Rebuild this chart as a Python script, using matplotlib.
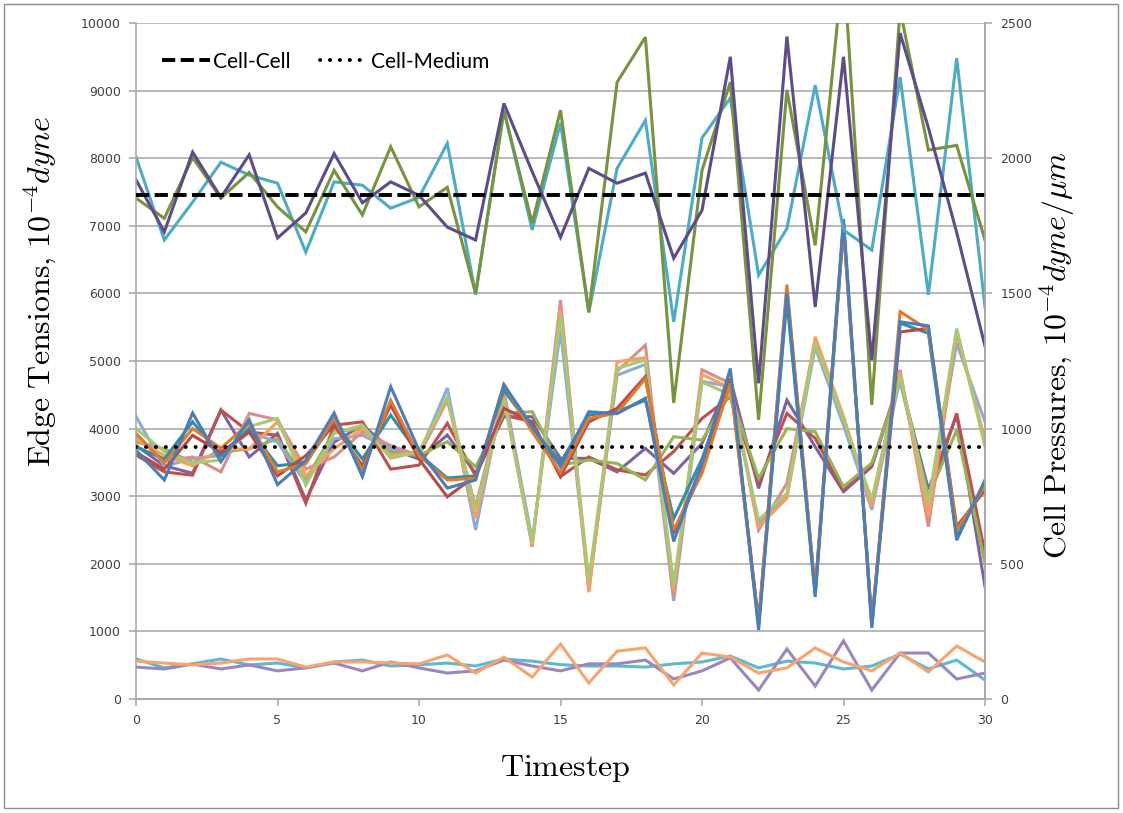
import matplotlib
matplotlib.use('Agg')
import matplotlib.pyplot as plt
from matplotlib.patches import Rectangle

plt.rcParams['mathtext.fontset'] = 'cm'

timestep = list(range(31))

# edge tensions, cell-cell edges (left axis, 1e-4 dyne)
cc_green = [7410, 7110, 8010, 7410, 7790, 7280, 6910, 7820, 7160, 8170, 7280,
            7570, 6000, 8700, 7040, 8710, 5720, 9125, 9790, 4380, 7820,
            9125, 4130, 9010, 6710, 10900, 4350, 10200, 8120, 8190, 6790]
cc_purple = [7680, 6910, 8090, 7420, 8050, 6820, 7190, 8070, 7340, 7650, 7450,
             6980, 6790, 8810, 7800, 6830, 7850, 7630, 7780, 6520, 7230,
             9500, 4670, 9800, 5800, 9500, 5010, 9850, 8450, 6900, 5220]
cc_cyan = [8020, 6790, 7350, 7940, 7750, 7630, 6610, 7650, 7600, 7260, 7420,
           8220, 5980, 8710, 6940, 8520, 5720, 7850, 8560, 5580, 8300,
           8890, 6270, 6960, 9080, 6940, 6640, 9200, 5980, 9480, 5800]

# edge tensions, cell-medium edges (left axis)
cm_blue = [3680, 3240, 4230, 3510, 4130, 3170, 3530, 4230, 3290, 4620, 3680,
           3120, 3240, 4650, 4030, 3440, 4250, 4220, 4450, 2330, 3490,
           4890, 1020, 6000, 1510, 7100, 1050, 5580, 5520, 2350, 3240]
cm_orange = [3930, 3490, 4000, 3710, 4080, 3360, 3480, 4150, 3380, 4420, 3600,
             3240, 3265, 4650, 3950, 3350, 4150, 4230, 4740, 2500, 3340,
             4670, 1100, 6130, 1600, 7000, 1090, 5730, 5460, 2500, 3150]
cm_teal = [3730, 3550, 4100, 3600, 4000, 3450, 3500, 4100, 3550, 4200, 3620,
           3270, 3300, 4570, 4000, 3500, 4200, 4250, 4420, 2670, 3550,
           4740, 1100, 5900, 1550, 6950, 1150, 5560, 5410, 2400, 3200]
cm_darkred = [3650, 3400, 3900, 3650, 3950, 3300, 3600, 4050, 3450, 4350, 3550,
              2990, 3300, 4300, 4100, 3290, 4100, 4300, 4770, 2450, 3450,
              4740, 1150, 6050, 1600, 7050, 1100, 5430, 5480, 2550, 3090]
cm_pink = [3880, 3520, 3580, 3360, 4225, 4130, 3400, 3580, 3950, 3750, 3600,
           4420, 2845, 4500, 2253, 5900, 1610, 4850, 5235, 1513, 4870,
           4670, 2500, 3190, 5300, 4150, 2900, 4870, 2550, 5410, 3830]
cm_lgreen = [4000, 3660, 3490, 3535, 4030, 4150, 3165, 3930, 4050, 3560, 3660,
             4470, 2795, 4420, 2300, 5680, 1760, 4890, 5015, 1710, 4690,
             4500, 2650, 3042, 5260, 4130, 2950, 4800, 2900, 5480, 3732]
cm_lblue = [4180, 3440, 3560, 3600, 3950, 3800, 3200, 3850, 3900, 3700, 3620,
            4600, 2500, 4570, 2350, 5460, 1650, 4790, 4950, 1450, 4700,
            4620, 2600, 3000, 5200, 4050, 2800, 4750, 2850, 5260, 4100]
cm_lorange = [3850, 3600, 3450, 3700, 3700, 4100, 3300, 3700, 4000, 3600, 3650,
              4450, 2670, 4480, 2270, 5750, 1580, 4990, 5050, 1600, 4800,
              4600, 2550, 2970, 5360, 4180, 2850, 4830, 2700, 5450, 3800]
cm_purple = [3750, 3450, 3340, 4275, 3580, 3930, 2943, 3800, 4050, 3700, 3550,
             3905, 3338, 4176, 4176, 3560, 3560, 3360, 3707, 3338, 3781,
             4740, 3115, 4422, 3732, 3066, 3436, 4718, 3100, 4200, 1661]
cm_red = [3610, 3360, 3310, 4275, 3950, 3900, 2894, 4050, 4100, 3400, 3460,
          4077, 3300, 4200, 4100, 3290, 3580, 3390, 3313, 3660, 4150,
          4470, 3200, 4225, 3855, 3100, 3460, 4750, 2950, 4225, 2154]
cm_green = [3800, 3700, 3500, 3650, 3700, 3850, 3250, 3950, 4000, 3650, 3600,
            3806, 3436, 4225, 4250, 3460, 3535, 3485, 3240, 3880, 3830,
            4520, 3265, 4000, 3954, 3140, 3490, 4690, 3000, 3978, 2006]

# cell pressures (right axis, 1e-4 dyne/um)
p_cyan = [148, 115, 130, 148, 126, 133, 115, 137, 144, 122, 126,
          133, 122, 148, 140, 127, 122, 122, 118, 130, 137,
          159, 115, 140, 133, 111, 122, 166, 111, 144, 70]
p_purple = [118, 111, 129, 111, 126, 104, 115, 133, 104, 137, 115,
            96, 104, 144, 122, 104, 130, 130, 144, 74, 104,
            152, 33, 185, 48, 215, 33, 170, 170, 74, 96]
p_orange = [140, 133, 126, 133, 148, 148, 118, 137, 137, 133, 130,
            163, 96, 155, 81, 203, 59, 177, 189, 52, 170,
            155, 96, 115, 189, 137, 104, 170, 100, 196, 137]

cell_cell_target = 7460
cell_medium_target = 3730

tension_series = [
    (cm_purple, '#7E62A1'), (cm_red, '#C0504D'), (cm_green, '#93B654'),
    (cm_lblue, '#8EAAD8'), (cm_pink, '#D98E8C'), (cm_lorange, '#F5A05E'),
    (cm_lgreen, '#A9C872'), (cm_teal, '#2F8FA3'), (cm_darkred, '#B94A47'),
    (cm_orange, '#E07B2E'), (cm_blue, '#4A7EBB'),
    (cc_cyan, '#4BACC6'), (cc_green, '#77933C'), (cc_purple, '#5F4B8B'),
]
pressure_series = [(p_cyan, '#5DB9CF'), (p_purple, '#9C86BF'), (p_orange, '#F9A46C')]

grid_c = '#A6A6A6'
lw = 2.2

fig = plt.figure(figsize=(11.23, 8.13), dpi=100)
ax = fig.add_axes([136/1123, 1 - 699/813, 849/1123, 676/813])
ax2 = ax.twinx()

for vals, c in tension_series:
    ax.plot(timestep, vals, color=c, lw=lw, solid_joinstyle='miter')
for vals, c in pressure_series:
    ax2.plot(timestep, vals, color=c, lw=lw, solid_joinstyle='miter')

h1 = ax.axhline(cell_cell_target, color='black', lw=2.8, dashes=(3.4, 1.4),
                label='Cell-Cell', zorder=5)
h2 = ax.axhline(cell_medium_target, color='black', lw=2.8,
                linestyle=(0, (0.05, 2.5)), dash_capstyle='round',
                label='Cell-Medium', zorder=5)

ax.set_xlim(0, 30)
ax.set_ylim(0, 10000)
ax2.set_ylim(0, 2500)
ax.set_xticks(range(0, 31, 5))
ax.set_yticks(range(0, 10001, 1000))
ax2.set_yticks(range(0, 2501, 500))
ax.grid(axis='y', color=grid_c, lw=1.1)
ax.set_axisbelow(True)

for a in (ax, ax2):
    a.spines['top'].set_visible(False)
    for s in ('left', 'right', 'bottom'):
        a.spines[s].set_color(grid_c)
        a.spines[s].set_linewidth(1.1)
    a.tick_params(length=5, width=1.1, color=grid_c, labelsize=9,
                  labelcolor='#404040', pad=6)
ax2.spines['left'].set_visible(False)

leg = ax.legend(handles=[h1, h2], loc='center left', bbox_to_anchor=(0.031, 0.943),
                ncol=2, frameon=False, borderpad=0, borderaxespad=0,
                handlelength=2.3, handletextpad=0.15, columnspacing=1.4,
                prop={'family': 'Lato', 'size': 15})

fig.text(40/1123, 1 - 291/813, r'$\mathrm{Edge\ Tensions{,}\ 10^{-4}}dyne$',
         rotation=90, ha='center', va='center', fontsize=23)
fig.text(1057/1123, 1 - 355/813, r'$\mathrm{Cell\ Pressures{,}\ 10^{-4}}dyne/\mu m$',
         rotation=90, ha='center', va='center', fontsize=23)
fig.text(565/1123, 1 - 768/813, r'$\mathrm{Timestep}$',
         ha='center', va='center', fontsize=23)

fig.patches.append(Rectangle((4/1123, 5/813), 1114/1123, 804/813,
                             transform=fig.transFigure, fill=False,
                             edgecolor='#8C8C8C', lw=1))

fig.savefig('out.png', dpi=100)
